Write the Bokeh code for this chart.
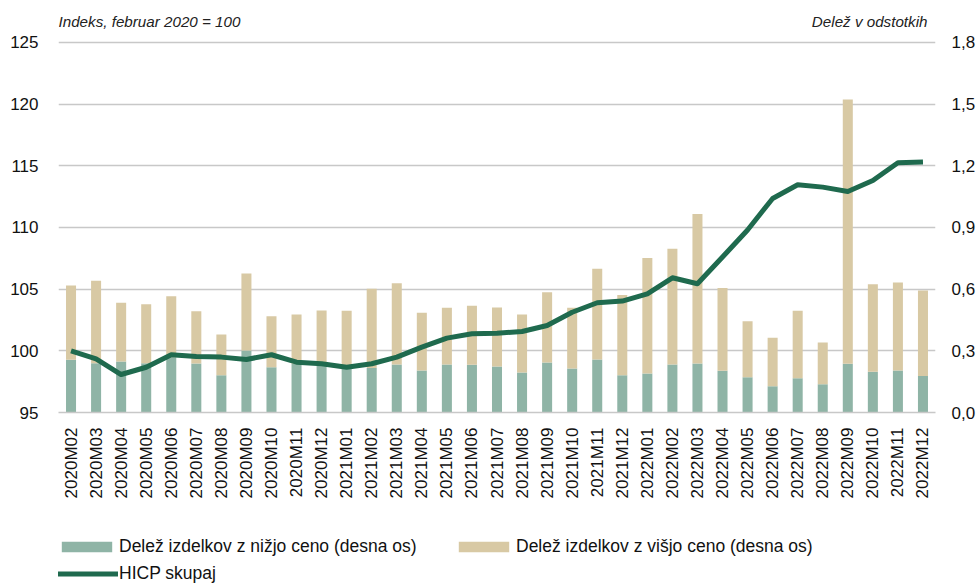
import math
from bokeh.plotting import figure
from bokeh.layouts import column
from bokeh.models import (FactorRange, Range1d, LinearAxis, FixedTicker,
                          CustomJSTickFormatter, Label, ColumnDataSource)
from bokeh.embed import file_html
from bokeh.resources import INLINE

months = ["2020M02", "2020M03", "2020M04", "2020M05", "2020M06", "2020M07", "2020M08",
          "2020M09", "2020M10", "2020M11", "2020M12",
          "2021M01", "2021M02", "2021M03", "2021M04", "2021M05", "2021M06", "2021M07",
          "2021M08", "2021M09", "2021M10", "2021M11", "2021M12",
          "2022M01", "2022M02", "2022M03", "2022M04", "2022M05", "2022M06", "2022M07",
          "2022M08", "2022M09", "2022M10", "2022M11", "2022M12"]

lower = [0.256, 0.240, 0.248, 0.240, 0.269, 0.238, 0.181, 0.302, 0.220, 0.237, 0.229,
         0.213, 0.217, 0.233, 0.204, 0.233, 0.232, 0.224, 0.195, 0.243, 0.214, 0.258, 0.181,
         0.190, 0.233, 0.238, 0.203, 0.172, 0.128, 0.167, 0.138, 0.237, 0.198, 0.204, 0.177]

higher = [0.362, 0.401, 0.286, 0.287, 0.297, 0.255, 0.198, 0.374, 0.248, 0.240, 0.267,
          0.282, 0.385, 0.396, 0.281, 0.276, 0.287, 0.287, 0.282, 0.342, 0.295, 0.441, 0.391,
          0.562, 0.563, 0.728, 0.403, 0.272, 0.235, 0.328, 0.202, 1.285, 0.426, 0.428, 0.416]

hicp = [100.0, 99.35, 98.08, 98.67, 99.68, 99.54, 99.49, 99.30, 99.68, 99.08, 98.95,
        98.67, 98.95, 99.49, 100.30, 101.03, 101.38, 101.43, 101.57, 102.05, 103.13, 103.90, 104.03,
        104.62, 105.92, 105.44, 107.60, 109.80, 112.35, 113.46, 113.27, 112.92, 113.81, 115.25, 115.30]

left_ticks = [95, 100, 105, 110, 115, 120, 125]
right_ticks = [0.0, 0.3, 0.6, 0.9, 1.2, 1.5, 1.8]

series_names = ["Delež izdelkov z nižjo ceno (desna os)",
                "Delež izdelkov z višjo ceno (desna os)",
                "HICP skupaj"]
left_title = "Indeks, februar 2020 = 100"
right_title = "Delež v odstotkih"

C_LOW = "#8fb4a6"
C_HIGH = "#d8c9a4"
C_LINE = "#1f6a4e"
GRID = "#c8c8c8"
TXT = "#111111"
FONT = "Liberation Sans"

# frame extends above the top tick so the two unit captions fit inside it
HEADROOM = 3.4
y_lo, y_hi = left_ticks[0], left_ticks[-1] + HEADROOM
scale = (right_ticks[-1] - right_ticks[0]) / (left_ticks[-1] - left_ticks[0])
r_lo, r_hi = right_ticks[0], right_ticks[0] + (y_hi - y_lo) * scale

src = ColumnDataSource(dict(month=months, lower=lower, higher=higher, hicp=hicp))

p = figure(width=978, height=520,
           x_range=FactorRange(factors=months, range_padding=0),
           y_range=Range1d(y_lo, y_hi),
           output_backend="svg", toolbar_location=None,
           min_border_left=58, min_border_right=40,
           min_border_top=0, min_border_bottom=108)
p.outline_line_color = None
p.background_fill_color = "white"
p.extra_y_ranges = {"share": Range1d(r_lo, r_hi)}

p.vbar_stack(["lower", "higher"], x="month", width=0.4, source=src,
             y_range_name="share", color=[C_LOW, C_HIGH], line_color=None)
p.line("month", "hicp", source=src, line_color=C_LINE, line_width=5, line_join="round")

# left axis
yax = p.yaxis[0]
yax.ticker = FixedTicker(ticks=left_ticks)
yax.axis_line_color = None
yax.major_tick_line_color = None
yax.minor_tick_line_color = None
yax.major_tick_out = 0
yax.major_tick_in = 0
yax.minor_tick_out = 0
yax.major_label_standoff = 20
yax.major_label_text_font = FONT
yax.major_label_text_font_size = "17px"
yax.major_label_text_color = TXT

# right axis
rax = LinearAxis(y_range_name="share", ticker=FixedTicker(ticks=right_ticks),
                 formatter=CustomJSTickFormatter(code="return tick.toFixed(1).replace('.', ',');"))
rax.axis_line_color = None
rax.major_tick_line_color = None
rax.minor_tick_line_color = None
rax.major_tick_out = 0
rax.major_tick_in = 0
rax.minor_tick_out = 0
rax.major_label_standoff = 16
rax.major_label_text_font = FONT
rax.major_label_text_font_size = "17px"
rax.major_label_text_color = TXT
p.add_layout(rax, "right")

# x axis
xax = p.xaxis[0]
xax.major_label_orientation = math.pi / 2
xax.axis_line_color = GRID
xax.axis_line_width = 1.5
xax.major_tick_line_color = None
xax.minor_tick_line_color = None
xax.major_tick_out = 0
xax.major_tick_in = 0
xax.minor_tick_out = 0
xax.major_label_standoff = 15
xax.major_label_text_font = FONT
xax.major_label_text_font_size = "17px"
xax.major_label_text_color = TXT

p.xgrid.grid_line_color = None
p.ygrid.ticker = FixedTicker(ticks=left_ticks)
p.ygrid.grid_line_color = GRID
p.ygrid.grid_line_width = 1.3

# unit captions above the top grid line
cap_y = left_ticks[-1] + 1.7
p.add_layout(Label(x=0, y=cap_y, x_units="screen", y_units="data", text=left_title,
                   text_font=FONT, text_font_size="15.2px", text_font_style="italic",
                   text_align="left", text_baseline="middle", text_color="#222222"))
p.add_layout(Label(x=869, y=cap_y, x_units="screen", y_units="data", text=right_title,
                   text_font=FONT, text_font_size="15.2px", text_font_style="italic",
                   text_align="right", text_baseline="middle", text_color="#222222"))

# legend strip below the chart (renderers hidden; only their legend glyphs are shown)
pl = figure(width=978, height=65, x_range=FactorRange(factors=months), y_range=Range1d(0, 1),
            output_backend="svg", toolbar_location=None,
            x_axis_location=None, y_axis_location=None,
            min_border=0, min_border_left=0, min_border_right=0,
            min_border_top=0, min_border_bottom=0)
pl.outline_line_color = None
pl.grid.visible = False
r1 = pl.vbar(x="month", top="lower", width=0.4, source=src, color=C_LOW, line_color=None,
             legend_label=series_names[0])
r2 = pl.vbar(x="month", top="higher", width=0.4, source=src, color=C_HIGH, line_color=None,
             legend_label=series_names[1])
r3 = pl.line(x="month", y="hicp", source=src, line_color=C_LINE, line_width=5,
             legend_label=series_names[2])
for r in (r1, r2, r3):
    r.visible = False

lg = pl.legend[0]
lg.location = (-3, 1)
lg.ncols = 2
lg.orientation = "horizontal"
lg.padding = 0
lg.margin = 0
lg.spacing = 6
lg.border_line_color = None
lg.background_fill_alpha = 0
lg.inactive_fill_alpha = 0
lg.glyph_width = 63
lg.glyph_height = 13
lg.label_standoff = 1
lg.label_width = 327
lg.label_height = 20
lg.label_text_font = FONT
lg.label_text_font_size = "17.5px"
lg.label_text_color = TXT

open("out.html", "w").write(file_html(column(p, pl, spacing=0), INLINE))
